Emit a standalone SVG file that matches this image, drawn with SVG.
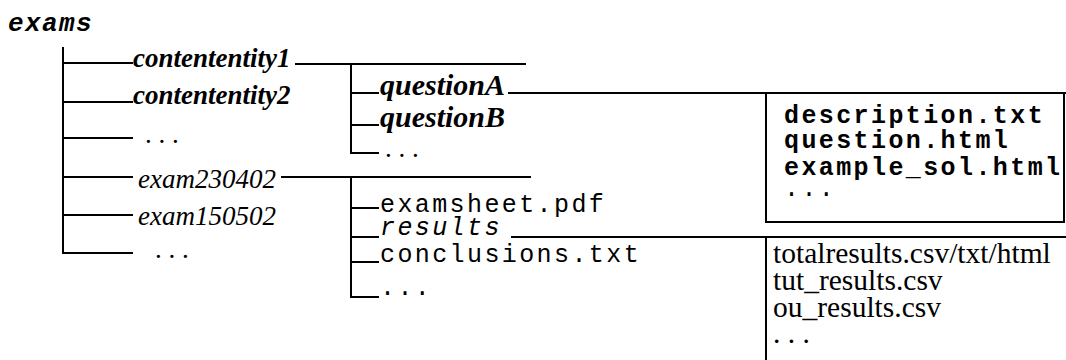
<svg xmlns="http://www.w3.org/2000/svg" width="1066" height="360" viewBox="0 0 1066 360">
  <style>
    .ln { stroke: #000; stroke-width: 2; fill: none; stroke-linecap: square; }
    .serif { font-family: "Liberation Serif", "Times New Roman", serif; font-size: 27px; fill: #000; }
    .q { font-size: 30px; }
    .files { font-size: 29.5px; }
    .mono { font-family: "Liberation Mono", "Courier New", monospace; font-size: 25px; letter-spacing: 2.4px; fill: #000; }
    .bi { font-weight: bold; font-style: italic; }
    .i { font-style: italic; }
    .b { font-weight: bold; }
  </style>
  <rect width="1066" height="360" fill="#fff"/>

  <!-- tree connectors -->
  <g id="connectors">
    <!-- exams trunk -->
    <path class="ln" d="M63 48 V253"/>
    <path class="ln" d="M63 63 H132 M63 102 H132 M63 138 H132 M63 177 H132 M63 215 H132 M63 253 H132"/>
    <!-- contententity1 branch -->
    <path class="ln" d="M296 64 H525 M351 64 V153 M351 93 H378 M351 125 H378 M351 153 H378"/>
    <!-- exam230402 branch -->
    <path class="ln" d="M282 177 H530 M351 177 V297 M351 208 H378 M351 237 H378 M351 262 H378 M351 297 H378"/>
    <!-- questionA contents box -->
    <path class="ln" d="M509 93 H1066 M766 93 V222 H1064 V93"/>
    <!-- results contents -->
    <path class="ln" d="M512 237 H1066 M766 237 V360"/>
  </g>

  <g id="exams"><text class="mono bi" x="8" y="31" style="font-size:26px;letter-spacing:1.4px">exams</text></g>

  <g id="contententity1"><text class="serif bi" x="133" y="67">contententity1</text></g>
  <g id="contententity2"><text class="serif bi" x="133" y="104">contententity2</text></g>
  <g id="more1"><text class="serif" x="145" y="143">. . .</text></g>
  <g id="exam230402"><text class="serif i" x="138" y="188">exam230402</text></g>
  <g id="exam150502"><text class="serif i" x="138" y="225">exam150502</text></g>
  <g id="more2"><text class="serif" x="155" y="258">. . .</text></g>

  <g id="questionA"><text class="serif q bi" x="380" y="95">questionA</text></g>
  <g id="questionB"><text class="serif q bi" x="380" y="127">questionB</text></g>
  <g id="more3"><text class="serif" x="385" y="157">. . .</text></g>

  <g id="examsheet"><text class="mono" x="380" y="212">examsheet.pdf</text></g>
  <g id="results"><text class="mono i" x="380" y="235">results</text></g>
  <g id="conclusions"><text class="mono" x="380" y="262">conclusions.txt</text></g>
  <g id="more4"><text class="mono" x="380" y="295">...</text></g>

  <g id="question-files">
    <text class="mono b" x="784" y="123">description.txt</text>
    <text class="mono b" x="784" y="148">question.html</text>
    <text class="mono b" x="784" y="175">example_sol.html</text>
    <text class="mono" x="784" y="196">...</text>
  </g>

  <g id="result-files">
    <text class="serif files" x="773" y="263">totalresults.csv/txt/html</text>
    <text class="serif files" x="773" y="290">tut_results.csv</text>
    <text class="serif files" x="773" y="317">ou_results.csv</text>
    <text class="serif files" x="773" y="343">. . .</text>
  </g>
</svg>
